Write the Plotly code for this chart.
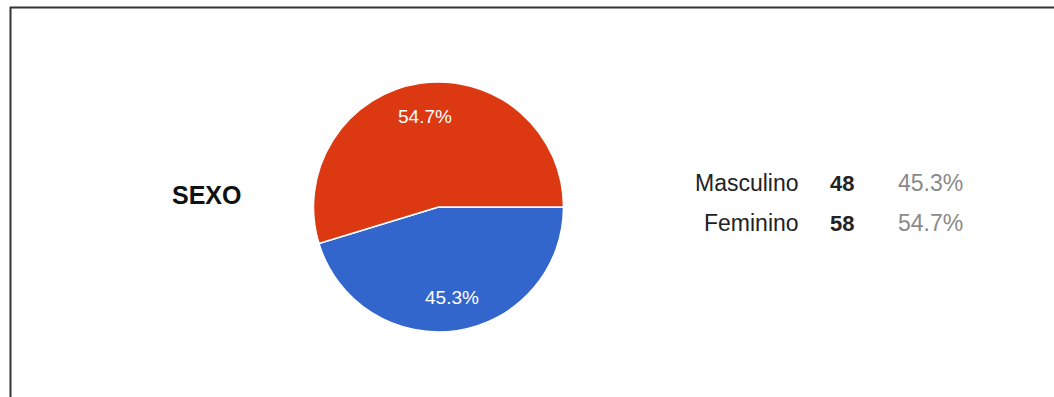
import math
import plotly.graph_objects as go

# Survey answers for "SEXO"
question = "SEXO"
categories = ["Masculino", "Feminino"]
counts = [48, 58]
slice_colors = ["#3366cc", "#dc3912"]

W, H = 1054, 397
total = sum(counts)
shares = [c / total * 100 for c in counts]

# pie geometry (pixels); first slice starts at 3 o'clock and runs clockwise
cx, cy, r = 438.5, 207, 125
start_deg = 90  # plotly rotation
label_radius = 0.728

font_family = "Arial, Liberation Sans, sans-serif"

fig = go.Figure()
fig.add_trace(go.Pie(
    labels=categories,
    values=counts,
    sort=False,
    direction="clockwise",
    rotation=start_deg,
    marker=dict(colors=slice_colors, line=dict(color="white", width=1.5)),
    textinfo="none",
    hoverinfo="label+value+percent",
    showlegend=False,
    domain=dict(x=[(cx - r) / W, (cx + r) / W],
                y=[(H - cy - r) / H, (H - cy + r) / H]),
))

annotations = [
    dict(x=206.5 / W, y=1 - 195 / H, xref="paper", yref="paper",
         text=f"<b>{question}</b>", showarrow=False,
         font=dict(family=font_family, size=25, color="#111111"),
         xanchor="center", yanchor="middle"),
]

# percentage labels inside each slice, placed along the slice's mid-angle
acc = 0.0
for cnt, pct in zip(counts, shares):
    mid = acc + cnt / 2
    acc += cnt
    # angle measured clockwise from 12 o'clock
    theta = math.radians(start_deg + 360 * mid / total)
    lx = cx + label_radius * r * math.sin(theta)
    ly = cy - label_radius * r * math.cos(theta)
    annotations.append(dict(x=lx / W, y=1 - ly / H, xref="paper", yref="paper",
                            text=f"{pct:.1f}%", showarrow=False,
                            xanchor="center", yanchor="middle",
                            font=dict(family=font_family, size=19, color="white")))

# legend table: name | count | share
row_y = [183, 223]
for name, cnt, pct, y in zip(categories, counts, shares, row_y):
    annotations.append(dict(x=801 / W, y=1 - y / H, xref="paper", yref="paper",
                            text=name, showarrow=False, xanchor="right", yanchor="middle",
                            font=dict(family=font_family, size=23, color="#222222")))
    annotations.append(dict(x=856 / W, y=1 - y / H, xref="paper", yref="paper",
                            text=f"<b>{cnt}</b>", showarrow=False, xanchor="right", yanchor="middle",
                            font=dict(family=font_family, size=22, color="#222222")))
    annotations.append(dict(x=965 / W, y=1 - y / H, xref="paper", yref="paper",
                            text=f"{pct:.1f}%", showarrow=False, xanchor="right", yanchor="middle",
                            font=dict(family=font_family, size=23, color="#8a8a8a")))

# frame lines along the top and left edges
shapes = [
    dict(type="line", xref="paper", yref="paper", x0=10 / W, x1=1, y0=1 - 7.5 / H, y1=1 - 7.5 / H,
         line=dict(color="#333333", width=2)),
    dict(type="line", xref="paper", yref="paper", x0=10.5 / W, x1=10.5 / W, y0=0, y1=1 - 7 / H,
         line=dict(color="#333333", width=2)),
]

fig.update_layout(
    width=W, height=H,
    margin=dict(l=0, r=0, t=0, b=0),
    paper_bgcolor="white", plot_bgcolor="white",
    annotations=annotations,
    shapes=shapes,
)

fig.write_html("out.html")
